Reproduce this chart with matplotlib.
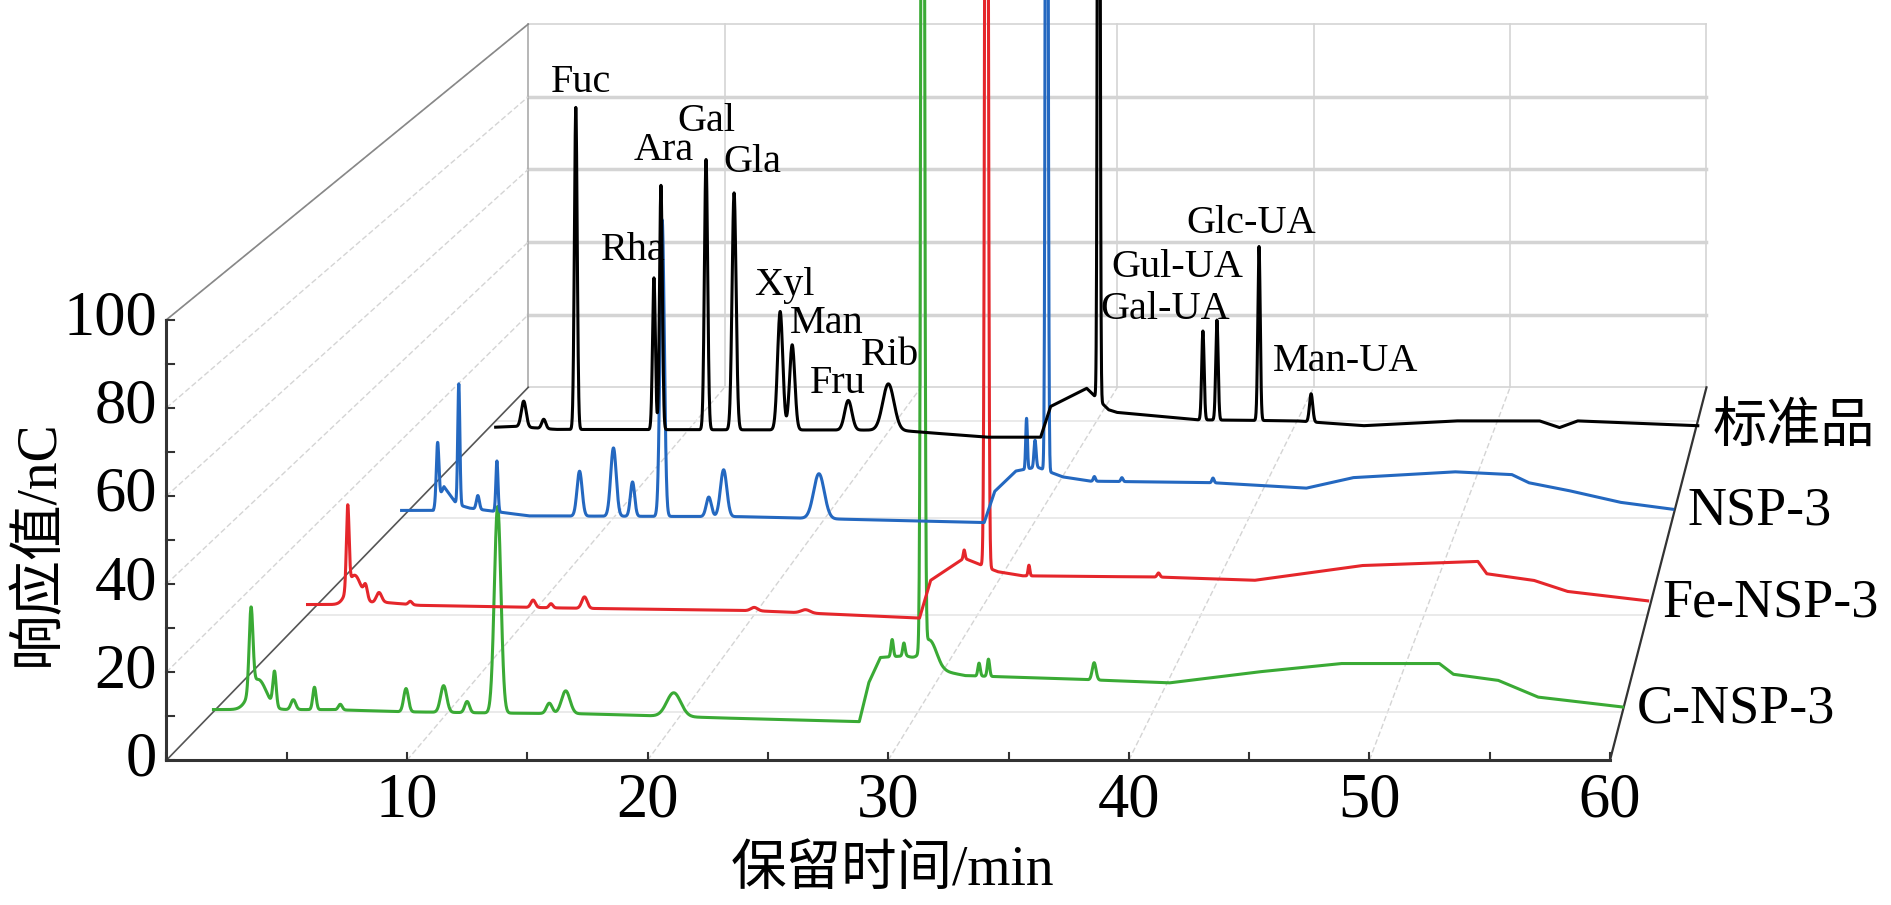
import numpy as np
import matplotlib
matplotlib.use("Agg")
import matplotlib.pyplot as plt

# ---------------- data (time in min, response in nC) ----------------
samples = ["C-NSP-3", "Fe-NSP-3", "NSP-3", "标准品"]
colors = ["#3aaa35", "#e5262b", "#2468c0", "#000000"]

# baseline knots (t, value)
base_C = [(0, 0.5), (5, 0.5), (8, 0), (12, -0.3), (16, -0.5), (22, -1.5), (27.5, -2.3), (27.9, 6.7),
          (28.4, 12.6), (29.5, 13), (31, 9.5), (32, 8.4), (37, 7.5), (40.7, 6.7), (44.4, 9.2),
          (48, 11.2), (52.2, 11.2), (52.8, 8.7), (54.7, 7.3), (56.4, 3.4), (60, 1.1)]
peaks_C = [(1.6, 19, 0.08), (1.9, 7, 0.35), (2.6, 8, 0.07), (3.4, 2.3, 0.1), (4.3, 5.2, 0.07),
           (5.4, 1.3, 0.08), (8.2, 5.4, 0.1), (9.8, 6.2, 0.13), (10.8, 2.6, 0.1), (12.1, 48, 0.14),
           (14.3, 2.4, 0.12), (15.0, 5.3, 0.18), (19.6, 5.5, 0.3), (28.9, 4, 0.05), (29.4, 3, 0.05),
           (30.2, 400, 0.06), (30.5, 6, 0.3), (32.6, 3, 0.05), (33.0, 4, 0.05), (37.5, 4, 0.08)]

base_F = [(0, 2.5), (1.5, 2.5), (3.5, 3.0), (5, 2.3), (12, 1.6), (20, 1.0), (27.4, -0.8), (27.9, 8.4),
          (29.4, 13.8), (30.9, 10.5), (32, 9.5), (38.1, 9.2), (42.4, 8.4), (47.2, 12), (52.4, 13),
          (52.8, 10), (54.9, 8.4), (56.4, 5.7), (60, 3.4)]
peaks_F = [(1.8, 20, 0.06), (2.1, 7, 0.3), (2.6, 3, 0.08), (3.2, 2.5, 0.12), (4.6, 0.8, 0.08),
           (10.1, 1.8, 0.1), (10.9, 1, 0.08), (12.4, 2.8, 0.12), (20.0, 0.8, 0.15), (22.3, 0.8, 0.2),
           (29.4, 2, 0.04), (30.4, 400, 0.06), (32.3, 2.6, 0.04), (38.1, 1, 0.06)]

base_N = [(0, 1.9), (1.5, 1.9), (2.0, 8), (2.6, 3.5), (3.2, 2.5), (6, 0.5), (16, 0.3), (22, -0.5),
          (27.5, -1.2), (28.0, 6.8), (29.0, 12), (30.0, 13), (31.2, 10.5), (32.5, 9.4), (38.3, 9),
          (42.7, 7.6), (44.9, 10.3), (49.7, 11.8), (52.4, 11.1), (53.2, 9), (55, 7.1), (57.5, 4), (60, 2.2)]
peaks_N = [(1.7, 15, 0.06), (2.7, 31, 0.05), (3.6, 3.5, 0.07), (4.5, 13, 0.05), (8.4, 11.5, 0.12),
           (10.0, 17.5, 0.13), (10.9, 8.8, 0.1), (12.3, 76, 0.1), (14.5, 5, 0.12), (15.2, 12, 0.15),
           (19.7, 11.5, 0.25), (29.5, 13, 0.04), (29.9, 7, 0.05), (30.45, 400, 0.05), (32.7, 1.2, 0.05),
           (34.0, 1, 0.05), (38.3, 1.2, 0.05)]

base_S = [(0, -1.7), (1, -1.5), (3, -2.3), (20, -2.5), (24.5, -4.4), (27.2, -4.4), (27.7, 3.9),
          (29.5, 8.8), (30.6, 3), (31, 2.3), (35, 0.3), (40, 0), (43.3, -1.3), (47.9, 0),
          (52.1, 0), (53.1, -1.8), (54, 0), (60, -1.3)]
peaks_S = [(1.4, 7, 0.12), (2.4, 2.5, 0.1), (4.0, 87, 0.07), (7.9, 41, 0.07), (8.25, 66, 0.07),
           (10.5, 73, 0.08), (11.9, 64, 0.1), (14.2, 32, 0.13), (14.8, 23, 0.13), (17.6, 8, 0.18),
           (19.6, 12.5, 0.28), (30.1, 400, 0.05), (35.3, 24, 0.06), (36.0, 27, 0.06),
           (38.1, 47, 0.06), (40.7, 7.6, 0.08)]

bases = [base_C, base_F, base_N, base_S]
peaks = [peaks_C, peaks_F, peaks_N, peaks_S]
depths = [0.13, 0.39, 0.65, 0.91]

peak_names = ["Fuc", "Rha", "Ara", "Gal", "Gla", "Xyl", "Man", "Fru", "Rib",
              "Gal-UA", "Gul-UA", "Glc-UA", "Man-UA"]
label_pos = [(4.28, 91.5), (6.87, 45.9), (8.37, 73), (10.5, 81), (12.8, 69.7), (14.4, 36.5),
             (16.5, 26.4), (17.1, 10), (19.7, 17.6), (33.4, 30), (34.0, 41.4), (37.7, 53.4), (42.4, 16)]

x_ticks = [10, 20, 30, 40, 50, 60]
y_ticks = [0, 20, 40, 60, 80, 100]

# ---------------- oblique projection ----------------
def proj(t, v, d):
    t = np.asarray(t, float); v = np.asarray(v, float)
    x0 = 138 + 300 * d
    s = (1197 - 220 * d) / 60.0
    y0 = 630 - 309 * d
    k = 3.65 - 0.64 * d
    return x0 + s * t, y0 - k * v

W, H = 1568, 750
fig = plt.figure(figsize=(18.91, 9.05), dpi=100)
ax = fig.add_axes([0, 0, 1, 1])
ax.set_xlim(0, W); ax.set_ylim(H, 0); ax.axis("off")

serif = ["Liberation Serif", "Noto Sans CJK SC"]
grid_c = "#d4d4d4"

def line3(t, v, d, **kw):
    x, y = proj(t, v, d)
    ax.plot(x, y, **kw)

def line_d(t, v, d0, d1, **kw):
    x0, y0 = proj(t, v, d0); x1, y1 = proj(t, v, d1)
    ax.plot([x0, x1], [y0, y1], **kw)

# back plane grid
for v in y_ticks:
    line3([0, 60], [v, v], 1.0, color=grid_c, lw=2.5 if v in (20, 40, 60, 80) else 1.2, zorder=1)
for t in [0] + x_ticks:
    line3([t, t], [0, 100], 1.0, color=grid_c if t != 0 else "#aaaaaa", lw=1.2, zorder=1)
# left wall and floor lines
for v in y_ticks[1:]:
    line_d(0, v, 0, 1, color=grid_c, lw=1, ls=(0, (4, 2)), zorder=1)
for t in x_ticks[:-1]:
    line_d(t, 0, 0, 1, color=grid_c, lw=1, ls=(0, (4, 2)), zorder=1)
for d in depths:
    line3([0, 60], [0, 0], d, color="#e6e6e6", lw=1.2, zorder=1)
line_d(0, 100, 0, 1, color="#888888", lw=1.2, zorder=2)
line_d(0, 0, 0, 1, color="#555555", lw=1.2, zorder=2)
line_d(60, 0, 0, 1, color="#333333", lw=1.6, zorder=2)
# front axes
line3([0, 0], [0, 100], 0, color="#333333", lw=2.2, zorder=3)
line3([0, 60], [0, 0], 0, color="#333333", lw=2.2, zorder=3)
for v in range(0, 101, 10):
    x, y = proj([0, 0], [v, v], 0)
    ax.plot([x[0], x[0] + 6], [y[0], y[0]], color="#333333", lw=1.5)
for t in range(0, 61, 5):
    x, y = proj([t, t], [0, 1.6], 0)
    ax.plot(x, y, color="#333333", lw=1.5)

for v in y_ticks:
    x, y = proj(0, v, 0)
    ax.text(x - 8, y, str(v), ha="right", va="center", fontsize=45, family=serif)
for t in x_ticks:
    x, y = proj(t, 0, 0)
    ax.text(x, y + 10, str(t), ha="center", va="top", fontsize=45, family=serif)
ax.text(32, 450, "响应值/nC", rotation=90, ha="center", va="center", fontsize=40, family=serif)
ax.text(740, 722, "保留时间/min", ha="center", va="center", fontsize=40, family=serif)

# traces
tt = np.arange(0, 60.001, 0.01)
for name, col, b, pk, d in zip(samples, colors, bases, peaks, depths):
    bt, bv = zip(*b)
    sig = np.interp(tt, bt, bv)
    for (c, h, w) in pk:
        sig = sig + h * np.exp(-0.5 * ((tt - c) / w) ** 2)
    x, y = proj(tt, sig, d)
    ax.plot(x, y, color=col, lw=2.2, zorder=5 + d)
    xe, ye = proj(60, bv[-1], d)
    ax.text(xe + 12, ye + 2, name, ha="left", va="center", fontsize=39, family=serif)

for nm, (t, v) in zip(peak_names, label_pos):
    x, y = proj(t, v, depths[-1])
    ax.text(x, y, nm, ha="center", va="center", fontsize=29, family=serif, zorder=10)

fig.savefig("out.png", dpi=100)
